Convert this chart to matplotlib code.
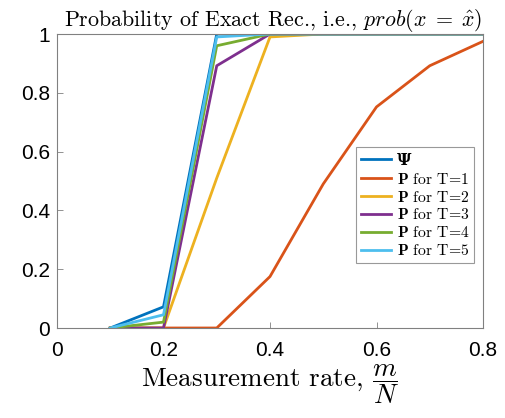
import numpy as np
import matplotlib
matplotlib.use("Agg")
import matplotlib.pyplot as plt

plt.rcParams['mathtext.fontset'] = 'cm'
plt.rcParams['font.family'] = ['Liberation Sans', 'DejaVu Sans']

# ── Données ──────────────────────────────────────────────────────────────────
rate = [0.1, 0.2, 0.3, 0.4, 0.5, 0.6, 0.7, 0.8]
psi  = [0.0, 0.072, 1.0, 1.0, 1.0, 1.0, 1.0, 1.0]
t1   = [0.0, 0.0, 0.0, 0.175, 0.49, 0.752, 0.892, 0.975]
t2   = [0.0, 0.0, 0.51, 0.99, 1.0, 1.0, 1.0, 1.0]
t3   = [0.0, 0.0, 0.892, 1.0, 1.0, 1.0, 1.0, 1.0]
t4   = [0.0, 0.02, 0.96, 1.0, 1.0, 1.0, 1.0, 1.0]
t5   = [0.0, 0.045, 0.99, 1.0, 1.0, 1.0, 1.0, 1.0]

series = [psi, t1, t2, t3, t4, t5]
labels = ['Ψ'] + [r'$\mathbf{P}$ for T=%d' % k for k in range(1, 6)]
colors = ['#0072BD', '#D95319', '#EDB120', '#7E2F8E', '#77AC30', '#4DBEEE']

fig = plt.figure(figsize=(5.05, 4.18), dpi=100)
ax = fig.add_axes([57 / 505, 1 - 328 / 418, (483 - 57) / 505, (328 - 34) / 418])

for y, lab, c in zip(series, labels, colors):
    ax.plot(rate, y, color=c, lw=2.0, label=lab)

ax.set_xlim(0, 0.8)
ax.set_ylim(0, 1)
ax.set_xticks(np.arange(0, 0.81, 0.2))
ax.set_xticklabels(['0', '0.2', '0.4', '0.6', '0.8'])
ax.set_yticks(np.arange(0, 1.01, 0.2))
ax.set_yticklabels(['0', '0.2', '0.4', '0.6', '0.8', '1'])
ax.tick_params(direction='in', labelsize=15, color='#808080', length=4, width=0.6)
ax.tick_params(axis='x', pad=9)
ax.tick_params(axis='y', pad=5)
for s in ax.spines.values():
    s.set_color('#808080')
    s.set_linewidth(0.8)

ax.set_title(r'Probability of Exact Rec., i.e., $prob(x\;=\;\hat{x})$',
             fontsize=15.8, family='cmr10', pad=5, x=0.508)
ax.set_xlabel(r'Measurement rate, $\dfrac{m}{N}$', fontsize=19.5, family='cmr10', labelpad=2)

leg = ax.legend(loc='lower right', bbox_to_anchor=(0.98, 0.222),
                prop={'family': 'cmr10', 'size': 11.3},
                frameon=True, fancybox=False, handlelength=1.9, handletextpad=0.4,
                borderpad=0.3, labelspacing=0.18, borderaxespad=0)
leg.get_frame().set_edgecolor('#808080')
leg.get_frame().set_linewidth(0.8)
leg.get_texts()[0].set_family('DejaVu Serif')
leg.get_texts()[0].set_fontweight('bold')

plt.savefig("out.png", dpi=100)
